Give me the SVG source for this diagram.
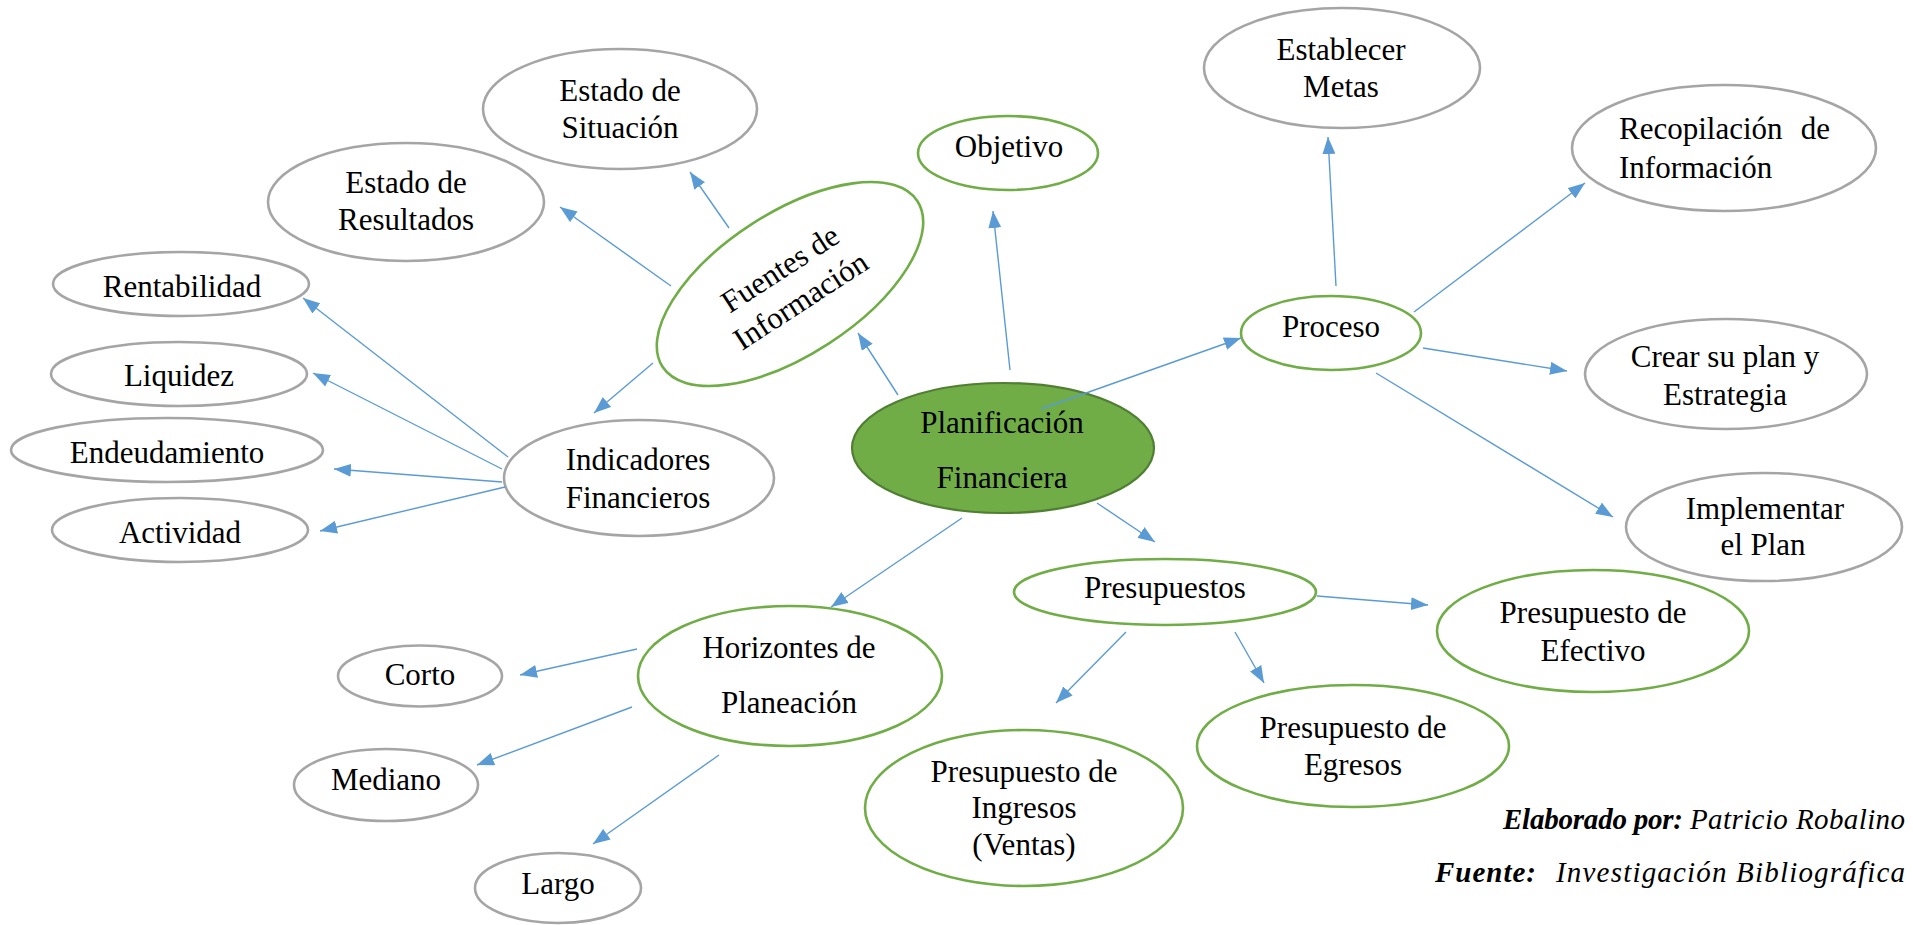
<svg xmlns="http://www.w3.org/2000/svg" width="1913" height="925" viewBox="0 0 1913 925">
  <defs>
    <style>
      .node-gray { fill: #ffffff; stroke: #a5a5a5; stroke-width: 2.6; }
      .node-green { fill: #ffffff; stroke: #70ad47; stroke-width: 2.6; }
      .node-main { fill: #70ad47; stroke: #507e32; stroke-width: 2.2; }
      .lbl { font-family: "Liberation Serif", "Times New Roman", serif; font-size: 31px; fill: #000000; text-anchor: middle; }
      .lbl-start { text-anchor: start; }
      .lbl-end { text-anchor: end; }
      .edge { stroke: #5b9bd5; stroke-width: 1.4; fill: none; marker-end: url(#arrow); }
      .note { font-family: "Liberation Serif", "Times New Roman", serif; font-size: 29px; font-style: italic; fill: #000000; }
      .note-b { font-weight: bold; }
    </style>
    <marker id="arrow" markerUnits="userSpaceOnUse" viewBox="0 0 17 13" markerWidth="17" markerHeight="13" refX="17" refY="6.5" orient="auto">
      <path d="M0,0 L17,6.5 L0,13 z" fill="#5b9bd5"/>
    </marker>
  </defs>

  <rect width="1913" height="925" fill="#ffffff"/>

  <!-- central node -->
  <g id="planificacion">
    <ellipse class="node-main" cx="1003" cy="448" rx="151" ry="65"/>
    <text class="lbl" x="1002" y="433">Planificación</text>
    <text class="lbl" x="1002" y="488">Financiera</text>
  </g>

  <!-- information sources branch -->
  <g id="fuentes">
    <g transform="translate(790,284) rotate(-33)">
      <ellipse class="node-green" cx="0" cy="0" rx="152" ry="71"/>
      <text class="lbl" x="0" y="-8">Fuentes de</text>
      <text class="lbl" x="0" y="30">Información</text>
    </g>
  </g>
  <g id="estado-situacion">
    <ellipse class="node-gray" cx="620" cy="109" rx="137" ry="60"/>
    <text class="lbl" x="620" y="101">Estado de</text>
    <text class="lbl" x="620" y="138">Situación</text>
  </g>
  <g id="estado-resultados">
    <ellipse class="node-gray" cx="406" cy="202" rx="138" ry="59"/>
    <text class="lbl" x="406" y="193">Estado de</text>
    <text class="lbl" x="406" y="230">Resultados</text>
  </g>

  <!-- financial indicators branch -->
  <g id="indicadores">
    <ellipse class="node-gray" cx="639" cy="478" rx="135" ry="58"/>
    <text class="lbl" x="638" y="470">Indicadores</text>
    <text class="lbl" x="638" y="508">Financieros</text>
  </g>
  <g id="rentabilidad">
    <ellipse class="node-gray" cx="181" cy="284" rx="128" ry="32"/>
    <text class="lbl" x="182" y="297">Rentabilidad</text>
  </g>
  <g id="liquidez">
    <ellipse class="node-gray" cx="179" cy="374" rx="128" ry="32"/>
    <text class="lbl" x="179" y="386">Liquidez</text>
  </g>
  <g id="endeudamiento">
    <ellipse class="node-gray" cx="167" cy="450" rx="156" ry="32"/>
    <text class="lbl" x="167" y="463">Endeudamiento</text>
  </g>
  <g id="actividad">
    <ellipse class="node-gray" cx="180" cy="530" rx="128" ry="32"/>
    <text class="lbl" x="180" y="543">Actividad</text>
  </g>

  <!-- planning horizons branch -->
  <g id="horizontes">
    <ellipse class="node-green" cx="790" cy="676" rx="152" ry="70"/>
    <text class="lbl" x="789" y="658">Horizontes de</text>
    <text class="lbl" x="789" y="713">Planeación</text>
  </g>
  <g id="corto">
    <ellipse class="node-gray" cx="420" cy="676" rx="82" ry="30.5"/>
    <text class="lbl" x="420" y="685">Corto</text>
  </g>
  <g id="mediano">
    <ellipse class="node-gray" cx="386" cy="785" rx="92" ry="36"/>
    <text class="lbl" x="386" y="790">Mediano</text>
  </g>
  <g id="largo">
    <ellipse class="node-gray" cx="558" cy="888" rx="83" ry="35"/>
    <text class="lbl" x="558" y="894">Largo</text>
  </g>

  <!-- objective -->
  <g id="objetivo">
    <ellipse class="node-green" cx="1008" cy="153" rx="90" ry="37"/>
    <text class="lbl" x="1009" y="157">Objetivo</text>
  </g>

  <!-- process branch -->
  <g id="proceso">
    <ellipse class="node-green" cx="1331" cy="333" rx="90" ry="37"/>
    <text class="lbl" x="1331" y="337">Proceso</text>
  </g>
  <g id="establecer-metas">
    <ellipse class="node-gray" cx="1342" cy="68" rx="138" ry="60"/>
    <text class="lbl" x="1341" y="60">Establecer</text>
    <text class="lbl" x="1341" y="97">Metas</text>
  </g>
  <g id="recopilacion">
    <ellipse class="node-gray" cx="1724" cy="148" rx="152" ry="63"/>
    <text class="lbl lbl-start" x="1619" y="139">Recopilación</text>
    <text class="lbl lbl-end" x="1830" y="139">de</text>
    <text class="lbl lbl-start" x="1619" y="178">Información</text>
  </g>
  <g id="crear-plan">
    <ellipse class="node-gray" cx="1726" cy="374" rx="141" ry="55"/>
    <text class="lbl" x="1725" y="367">Crear su plan y</text>
    <text class="lbl" x="1725" y="405">Estrategia</text>
  </g>
  <g id="implementar">
    <ellipse class="node-gray" cx="1764" cy="527" rx="138" ry="54"/>
    <text class="lbl" x="1765" y="519">Implementar</text>
    <text class="lbl" x="1763" y="555">el Plan</text>
  </g>

  <!-- budgets branch -->
  <g id="presupuestos">
    <ellipse class="node-green" cx="1165" cy="592" rx="151" ry="33"/>
    <text class="lbl" x="1165" y="598">Presupuestos</text>
  </g>
  <g id="presupuesto-efectivo">
    <ellipse class="node-green" cx="1593" cy="631" rx="156" ry="61"/>
    <text class="lbl" x="1593" y="623">Presupuesto de</text>
    <text class="lbl" x="1593" y="661">Efectivo</text>
  </g>
  <g id="presupuesto-egresos">
    <ellipse class="node-green" cx="1353" cy="746" rx="156" ry="61"/>
    <text class="lbl" x="1353" y="738">Presupuesto de</text>
    <text class="lbl" x="1353" y="775">Egresos</text>
  </g>
  <g id="presupuesto-ingresos">
    <ellipse class="node-green" cx="1024" cy="808" rx="159" ry="78"/>
    <text class="lbl" x="1024" y="782">Presupuesto de</text>
    <text class="lbl" x="1024" y="818">Ingresos</text>
    <text class="lbl" x="1024" y="855">(Ventas)</text>
  </g>

  <!-- connectors -->
  <g id="connectors">
    <line class="edge" x1="729" y1="228" x2="690" y2="172"/>
    <line class="edge" x1="671" y1="286" x2="560" y2="207"/>
    <line class="edge" x1="898" y1="395" x2="858" y2="333"/>
    <line class="edge" x1="653" y1="363" x2="594" y2="413"/>
    <line class="edge" x1="508" y1="457" x2="303" y2="298"/>
    <line class="edge" x1="502" y1="469" x2="313" y2="373"/>
    <line class="edge" x1="502" y1="482" x2="334" y2="469"/>
    <line class="edge" x1="505" y1="487" x2="320" y2="531"/>
    <line class="edge" x1="962" y1="518" x2="831" y2="607"/>
    <line class="edge" x1="637" y1="649" x2="520" y2="675"/>
    <line class="edge" x1="632" y1="707" x2="477" y2="765"/>
    <line class="edge" x1="719" y1="755" x2="593" y2="844"/>
    <line class="edge" x1="1010" y1="370" x2="993" y2="211"/>
    <line class="edge" x1="1041" y1="409" x2="1241" y2="338"/>
    <line class="edge" x1="1336" y1="286" x2="1328" y2="137"/>
    <line class="edge" x1="1414" y1="312" x2="1585" y2="183"/>
    <line class="edge" x1="1423" y1="348" x2="1567" y2="371"/>
    <line class="edge" x1="1376" y1="373" x2="1613" y2="517"/>
    <line class="edge" x1="1097" y1="503" x2="1155" y2="542"/>
    <line class="edge" x1="1317" y1="596" x2="1428" y2="605"/>
    <line class="edge" x1="1126" y1="632" x2="1056" y2="703"/>
    <line class="edge" x1="1235" y1="632" x2="1264" y2="683"/>
  </g>

  <!-- credits -->
  <text class="note note-b" x="1503" y="829" textLength="180" lengthAdjust="spacing">Elaborado por:</text>
  <text class="note" x="1690" y="829" textLength="215" lengthAdjust="spacing">Patricio Robalino</text>
  <text class="note note-b" x="1435" y="882" textLength="101" lengthAdjust="spacing">Fuente:</text>
  <text class="note" x="1556" y="882" textLength="349" lengthAdjust="spacing">Investigación Bibliográfica</text>
</svg>
